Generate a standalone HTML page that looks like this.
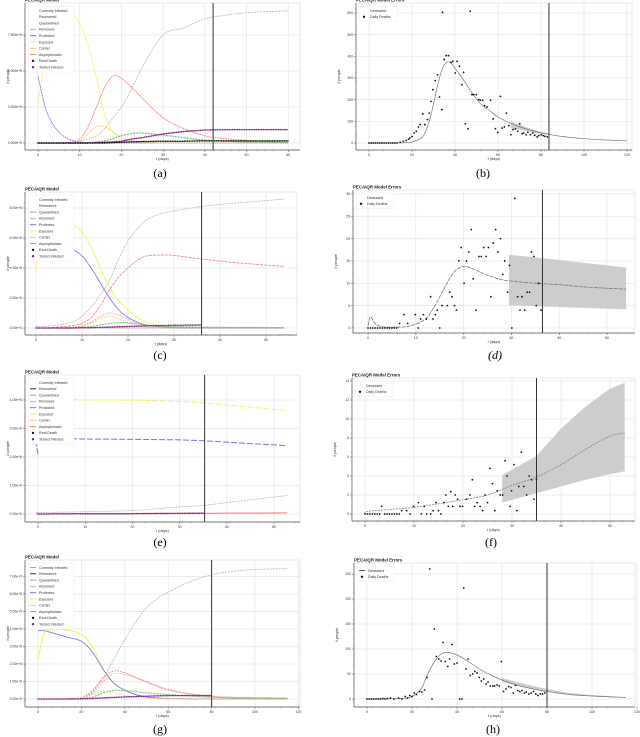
<!DOCTYPE html>
<html><head><meta charset="utf-8"><style>
body{margin:0;background:#fff;}
svg{display:block;font-family:"Liberation Sans",sans-serif;}
.cap{font-family:"Liberation Serif",serif;font-size:12px;}
</style></head><body>
<svg id="fig" width="640" height="737" viewBox="0 0 640 737" xmlns="http://www.w3.org/2000/svg">
<text class="cap" x="160" y="177" text-anchor="middle">(a)</text>
<text class="cap" x="483" y="177" text-anchor="middle">(b)</text>
<text class="cap" x="160" y="359" text-anchor="middle">(c)</text>
<text class="cap" x="495" y="359" text-anchor="middle"><tspan font-style="italic">(d)</tspan></text>
<text class="cap" x="160" y="546" text-anchor="middle">(e)</text>
<text class="cap" x="491" y="546" text-anchor="middle">(f)</text>
<text class="cap" x="160" y="733" text-anchor="middle">(g)</text>
<text class="cap" x="493" y="733" text-anchor="middle">(h)</text>
</svg>
<script>
// ---------- Panel (a) data ----------
const A_T=[0,2,4,6,8,10,12,14,16,18,20,22,25,30,35,40,45,50,55,60];
const A_removed=[0,0,0,0.01,0.02,0.05,0.12,0.2,0.4,0.7,1.0,1.4,2.1,3.0,3.2,3.45,3.55,3.62,3.65,3.67];
const A_exposed=[1.1,2.5,3.3,3.6,3.6,3.3,2.7,1.8,0.8,0.3,0.1,0.05,0.02,0,0,0,0,0,0,0];
const A_protected=[1.85,0.9,0.45,0.2,0.08,0.03,0.01,0,0,0,0,0,0,0,0,0,0,0,0,0];
const A_asym=[0,0,0,0,0.02,0.1,0.45,1.0,1.55,1.86,1.8,1.6,1.25,0.7,0.4,0.2,0.12,0.07,0.04,0.02];
const A_carrier=[0,0,0,0,0.01,0.05,0.25,0.45,0.45,0.3,0.15,0.08,0.03,0,0,0,0,0,0,0];
const A_quar=[0,0,0,0,0,0,0.01,0.03,0.06,0.12,0.2,0.25,0.28,0.22,0.15,0.08,0.05,0.03,0.02,0.01];
const A_tested=[0,0,0,0,0,0,0,0.01,0.02,0.03,0.05,0.1,0.15,0.25,0.32,0.36,0.37,0.37,0.37,0.37];
const A_deaths=[0,0,0,0,0,0,0,0,0,0.01,0.02,0.03,0.04,0.05,0.05,0.06,0.06,0.06,0.06,0.06];
// ---------- Panel (b) data ----------
const B_T=[0,15,20,25,28,30,32,34,36,38,40,44,48,52,56,60,65,70,75,80,90,100,110,120];
const B_model=[0,1,5,30,100,180,270,340,372,370,345,290,230,180,150,120,95,75,60,47,30,20,14,10];
const B_ptsT=[0,1,2,3,4,5,6,7,8,9,10,11,12,13,14.5,16,17.3,18.4,19,20,21,22,23,23.8,25,26,27.2,28,28.8,29.7,30.8,31.9,32.8,33.9,34.2,35,35.9,37,38.1,39,40.1,41,42.1,43.2,44,44.8,46,47.1,47.9,48.7,49.9,51,51.8,52.9,53.8,54.9,56.5,57.7,58.8,59.9,61.1,61.9,63,63.9,65,66,67,68.1,69.2,70.1,71.2,72,73.1,73.9,75.1,76.2,77.1,78.2,79,80.1,81,81.8,82.9];
const B_ptsV=[0,0,0,0,0,0,0,0,0,0,0,0,0,0,3,8,12,18,23,30,46,54,74,85,134,85,108,138,192,246,288,315,212,154,603,385,403,403,372,377,323,377,354,269,326,89,66,608,223,223,223,200,197,197,172,166,197,111,66,49,215,69,74,138,80,38,62,65,54,89,43,46,38,49,38,46,35,28,34,38,34,31,28];
const B_bandT=[66,70,75,80,84];
const B_bandHi=[100,85,65,52,44];
const B_bandLo=[70,62,52,42,38];
// ---------- Panel (c) data ----------
const C_T=[0,1,4,8,10,12,14,16,18,20,22,24,27,30,36,42,48,54];
const C_removed=[0.05,0.05,0.08,0.2,0.4,0.7,1.1,1.6,2.3,2.9,3.3,3.6,3.8,3.9,4.05,4.15,4.22,4.3];
const C_exposed=[2.0,3.6,3.6,3.45,3.2,2.7,2.0,1.35,0.9,0.6,0.35,0.2,0.08,0.02,0,0,0,0];
const C_protected=[2.8,2.8,2.75,2.6,2.4,2.0,1.5,1.0,0.6,0.35,0.2,0.1,0.04,0.01,0,0,0,0];
const C_asym=[0,0,0.02,0.08,0.15,0.35,0.75,1.27,1.7,2.0,2.25,2.4,2.43,2.42,2.3,2.2,2.12,2.05];
const C_carrier=[0,0,0,0.02,0.05,0.15,0.3,0.4,0.3,0.18,0.08,0.03,0.01,0,0,0,0,0];
const C_current=[0,0,0,0.03,0.08,0.2,0.38,0.5,0.42,0.28,0.15,0.08,0.04,0.02,0.01,0,0,0];
const C_quar=[0,0,0,0,0.02,0.05,0.1,0.15,0.18,0.17,0.14,0.1,0.07,0.05,0.03,0.02,0.02,0.01];
const C_tested=[0,0,0,0,0.01,0.01,0.02,0.03,0.04,0.05,0.06,0.07,0.08,0.09,0.1,0.1,0.1,0.1];
// ---------- Panel (d) data ----------
const D_T=[0,0.5,1.5,3,6,9,12,14,16,18,20,22,25,28,30,35,40,45,50,54];
const D_model=[0.5,2.5,1,0.3,0.2,0.5,2,5,9,12.5,13.8,13.2,11.8,10.8,10.5,10.0,9.7,9.2,8.9,8.7];
const D_ptsT=[0,0.5,1,1.5,2,2.5,3,3.5,4,4.5,5,5.5,6,6.6,7.5,8.3,9.9,10.5,11,11.6,12.2,13.1,13.6,14.1,14.5,15,15.5,16.6,17.1,17.6,18.1,18.5,19,19.5,20.1,20.6,21.1,21.6,22,22.6,23.2,23.7,24.2,24.7,25.2,25.7,26.2,26.7,27.2,27.7,28.2,28.6,29.2,29.6,30.1,30.7,31.3,31.8,32.2,32.8,33.3,33.8,34.2,34.7,35.2,35.7,36.2];
const D_ptsV=[0,0,0,0,0,0,0,0,0,0,0,0,0,1,3,1,3,0,2,3,2,7,2,3,4,0,5,5,8,7,5,4,15,18,10,15,17,22,11,4,16,16,18,16,18,7,19,22,17,20,12,15,8,14,0,29,7,4,7,4,8,8,17,16,5,10,4];
const D_bandT=[29.5,35,40,45,50,54];
const D_bandHi=[16.4,15.8,15.2,14.6,14.0,13.5];
const D_bandLo=[5.1,4.9,4.7,4.5,4.3,4.2];
// ---------- Panel (e) data ----------
const E_T=[0,0.5,10,20,25,30,35,40,45,52.8];
const E_exposed=[2.1,4.0,4.0,3.99,3.97,3.95,3.9,3.82,3.75,3.63];
const E_protected=[2.1,2.63,2.63,2.62,2.61,2.6,2.57,2.52,2.47,2.4];
const E_removed=[0.05,0.05,0.08,0.12,0.18,0.25,0.3,0.4,0.5,0.65];
const E_asym=[0,0,0.01,0.01,0.01,0.02,0.02,0.03,0.03,0.04];
const E_tested=[0,0,0.01,0.01,0.02,0.02,0.03,0.03,0.03,0.03];
// ---------- Panel (f) data ----------
const F_T=[0,1,10,20,25,30,35,40,45,50,53];
const F_model=[0,0.3,0.7,1.5,2.0,3.0,3.9,5.2,6.8,8.2,8.5];
const F_ptsT=[0,0.5,1,1.5,2,2.5,3,3.4,4,4.5,5,5.5,6,6.5,7,7.5,8.5,9.2,9.9,10.9,11.5,12.1,12.6,13.4,13.9,14.5,15,15.5,16.1,16.5,17,17.5,17.9,18.4,18.9,19.4,19.9,20.7,21.4,21.9,22.4,22.9,23.5,24,24.5,25,25.5,26,26.5,27,27.6,28.1,28.6,29,29.6,29.9,30.4,31,31.4,31.9,32.4,33,33.5,34,34.5,35];
const F_ptsV=[0,0,0,0,0,0,0,0.8,0,0,0,0,0,0,0,0.35,0.35,0,0.8,1.2,0,0.8,0,0,0.35,1.2,0.35,0,1.2,2,0.8,2.35,0.8,2,1.55,0.8,0.8,1.55,2,3.6,0.8,1.2,0.8,0.35,2,1.2,4.8,3.2,0.35,2.45,2,2,5.6,4,0.8,2.45,5.2,0.35,2.9,6.5,2.9,2,4,3.6,1.55,3.65];
const F_bandT=[28,35,40,45,50,53];
const F_bandHi=[4.1,6.1,9.0,11.3,13.2,13.8];
const F_bandLo=[1.2,2.2,2.9,3.6,4.2,4.5];
// ---------- Panel (g) data ----------
const G_T=[0,3,6,13,20,25,30,35,40,45,50,55,60,70,80,90,100,115];
const G_removed=[0,0,0,0.02,0.1,0.5,1.2,2.3,3.4,4.4,5.2,5.75,6.1,6.7,7.1,7.3,7.4,7.45];
const G_exposed=[2.3,3.8,3.95,3.95,3.7,3.0,1.7,0.9,0.5,0.25,0.1,0.05,0.02,0,0,0,0,0];
const G_protected=[3.9,3.9,3.8,3.55,3.3,2.7,1.7,0.9,0.5,0.25,0.12,0.06,0.03,0.01,0,0,0,0];
const G_current=[0,0,0,0,0.05,0.4,1.2,1.6,1.5,1.25,1.0,0.75,0.55,0.3,0.15,0.1,0.08,0.05];
const G_asym=[0,0,0,0,0.04,0.3,1.0,1.45,1.4,1.2,0.95,0.72,0.5,0.28,0.14,0.1,0.07,0.05];
const G_quar=[0,0,0,0,0.01,0.1,0.35,0.5,0.48,0.42,0.35,0.3,0.25,0.17,0.1,0.06,0.04,0.02];
const G_carrier=[0,0,0,0,0.05,0.25,0.45,0.35,0.2,0.1,0.05,0.03,0.02,0.01,0,0,0,0];
const G_tested=[0,0,0,0,0.01,0.03,0.06,0.09,0.12,0.14,0.16,0.18,0.19,0.2,0.2,0.2,0.2,0.2];
// ---------- Panel (h) data ----------
const H_T=[0,15,20,24,27,30,33,36,40,45,50,55,60,65,70,75,80,90,100,110,115];
const H_model=[0,1,5,20,50,75,90,93,88,75,60,48,38,30,24,19,15,9,6,4,3];
const H_ptsT=[0,1,2,3,4,5,6,7,8,9,10.4,12,14,15.5,17,18,19,20,21,22,23.4,24.4,25.6,26.7,27.9,28.9,29.9,30.8,31.9,32.9,33.8,34.8,35.9,36.7,37.8,38.8,40,41.2,42.2,43,44,44.9,45.9,47,47.9,48.9,49.9,50.8,51.9,52.9,53.8,54.8,55.9,56.7,57.8,58.8,59.7,60.7,61.8,63,64,65,66,67,67.9,68.9,70,70.8,71.9,72.9,74,75,76,77,78,79];
const H_ptsV=[0,0,0,0,0,0,0,1,0,1,2,0,2,0,5,2,7,5,12,9,15,14,18,43,260,0,140,85,80,76,113,75,65,80,109,70,72,0,0,222,60,80,47,50,55,52,43,36,40,30,34,26,26,26,28,26,75,15,20,25,23,12,27,17,15,17,12,14,10,12,15,10,7,10,10,12];
const H_bandT=[60,70,80,90,100,110];
const H_bandHi=[42,30,20,12,8,5];
const H_bandLo=[34,24,15,8,5,3];

const NS="http://www.w3.org/2000/svg";
const svg=document.getElementById('fig');
function mk(tag,attrs,parent){const e=document.createElementNS(NS,tag);for(const k in attrs)e.setAttribute(k,attrs[k]);(parent||svg).appendChild(e);return e;}
function smooth(pts){
  if(pts.length<3)return 'M'+pts.map(p=>p.join(',')).join('L');
  let d='M'+pts[0][0]+','+pts[0][1];
  for(let i=0;i<pts.length-1;i++){
    const p0=pts[Math.max(0,i-1)],p1=pts[i],p2=pts[i+1],p3=pts[Math.min(pts.length-1,i+2)];
    const c1x=p1[0]+(p2[0]-p0[0])/6,c1y=p1[1]+(p2[1]-p0[1])/6;
    const c2x=p2[0]-(p3[0]-p1[0])/6,c2y=p2[1]-(p3[1]-p1[1])/6;
    d+=`C${c1x},${c1y} ${c2x},${c2y} ${p2[0]},${p2[1]}`;
  }
  return d;
}

function drawPanel(P){
  const g=mk('g',{});
  
  
  const [fx0,fy0,fx1,fy1]=P.frame;
  const sx=t=>P.xpx0+t*P.xk;
  const sy=v=>P.ypx0-v*P.yk;
  mk('rect',{x:fx0,y:fy0,width:fx1-fx0,height:fy1-fy0,fill:'#fff',stroke:'#dcdcdc','stroke-width':0.6},g);
  const cid='clip-'+P.name;
  const cp=mk('clipPath',{id:cid},g);mk('rect',{x:fx0,y:fy0,width:fx1-fx0,height:fy1-fy0},cp);
  P.xticks.forEach((t,i)=>{
    const x=sx(t);
    const gl=mk('line',{x1:x,x2:x,y1:fy0,y2:fy1,stroke:'#e6e6e6','stroke-width':0.7},g);
    
    
    mk('line',{x1:x,x2:x,y1:fy1,y2:fy1+2,stroke:'#555','stroke-width':0.5},g);
    const tl=mk('text',{x:x,y:fy1+6,'font-size':3.6,'text-anchor':'middle',fill:'#333'},g);
    tl.textContent=P.xlabels[i];
    
    
  });
  P.yticks.forEach((v,i)=>{
    const y=sy(v);
    const gl=mk('line',{x1:fx0,x2:fx1,y1:y,y2:y,stroke:'#e6e6e6','stroke-width':0.7},g);
    
    
    mk('line',{x1:fx0-2,x2:fx0,y1:y,y2:y,stroke:'#555','stroke-width':0.5},g);
    const tl=mk('text',{x:fx0-3,y:y+1.2,'font-size':3.4,'text-anchor':'end',fill:'#333'},g);
    tl.textContent=P.ylabels[i];
    
    
  });
  for(let x=fx0+6;x<fx1;x+=(P.xk*P.minor)){mk('line',{x1:x,x2:x,y1:fy1,y2:fy1+1.2,stroke:'#777','stroke-width':0.4},g);}
  for(let y=fy1-6;y>fy0;y-=9){mk('line',{x1:fx0-1.2,x2:fx0,y1:y,y2:y,stroke:'#777','stroke-width':0.4},g);}
  mk('line',{x1:fx0,x2:fx1,y1:fy1,y2:fy1,stroke:'#555','stroke-width':0.7},g);
  mk('line',{x1:fx0,x2:fx0,y1:fy0,y2:fy1,stroke:'#555','stroke-width':0.7},g);
  const title=mk('text',{x:fx0,y:fy0-1.5,'font-size':4.4,'font-weight':'bold',fill:'#222'},g);
  title.textContent=P.title;
  
  
  const xl=mk('text',{x:(fx0+fx1)/2,y:fy1+10,'font-size':3.8,'text-anchor':'middle',fill:'#333'},g);
  xl.textContent='t (days)';
  
  
  const yl=mk('text',{x:fx0-16,y:(fy0+fy1)/2,'font-size':3.8,'text-anchor':'middle',fill:'#333',transform:`rotate(-90 ${fx0-16} ${(fy0+fy1)/2})`},g);
  yl.textContent='# people';
  
  
  const plot=mk('g',{'clip-path':`url(#${cid})`},g);
  const vx=sx(P.vline);
  (P.bands||[]).forEach(b=>{
    let d='M'+b.t.map((t,i)=>sx(t)+','+sy(b.hi[i])).join('L');
    for(let i=b.t.length-1;i>=0;i--)d+='L'+sx(b.t[i])+','+sy(b.lo[i]);
    const p=mk('path',{d:d+'Z',fill:'#c8c8c8',opacity:0.9},plot);
    
    
  });
  P.series.forEach(s=>{
    const pts=s.t.map((t,i)=>[sx(t),sy(s.v[i])]);
    if(s.kind==='dots'){
      const p=mk('path',{d:'M'+pts.map(p=>p.join(',')).join('L'),fill:'none',stroke:s.color,'stroke-width':1.5,'stroke-dasharray':'0.1 1.6','stroke-linecap':'round'},plot);
      
      
    } else if(s.kind==='scatter'){
      pts.forEach(p=>{
        const c=mk('circle',{cx:p[0],cy:p[1],r:0.9,fill:'#111'},plot);
        
        
      });
    } else {
      const p1=mk('path',{d:smooth(pts),fill:'none',stroke:s.color,'stroke-width':s.w||0.8,'stroke-dasharray':s.dash||'none'},plot);
      
      
    }
  });
  const vl=mk('line',{x1:vx,x2:vx,y1:fy0,y2:fy1,stroke:'#333','stroke-width':1},g);
  
  
  const L=P.legend;const lx=fx0+3,ly=fy0+3,lh=6.3;
  const lb=mk('rect',{x:lx,y:ly,width:P.legendW,height:L.length*lh+3,fill:'#fff',stroke:'#eee','stroke-width':0.5},g);
  
  
  L.forEach((e,i)=>{
    const y=ly+4.5+i*lh;
    if(e[2]==='dot')mk('circle',{cx:lx+5,cy:y,r:1.2,fill:e[1]},g);
    else if(e[1])mk('line',{x1:lx+2,x2:lx+8,y1:y,y2:y,stroke:e[1],'stroke-width':1},g);
    const t=mk('text',{x:lx+11,y:y+1.3,'font-size':3.6,fill:'#333'},g);
    t.textContent=e[0];
    
    
  });
}

const YEL='#f6f24a',BLU='#6f6ff5',RED='#f57a7a',GRY='#b5b5b5',ORG='#f5c870',GRN='#6cc06c',PUR='#8a1a8a',PNK='#f0a0a0';
const modelLegend=(c)=>[['Currently Infected',c[0]],['Recovered',c[1]],['Quarantined',c[2]],['Removed',GRY],['Protected',BLU],['Exposed',YEL],['Carrier',ORG],['Asymptomatic',RED],['Real Death','#111','dot'],['Tested Infected',PUR,'dot']];

drawPanel({name:'panel-a',title:'PECAIQR Model',frame:[25,3,300,150],xpx0:38,xk:4.17,ypx0:143,yk:36,vline:42,minor:2,
  xticks:[0,10,20,30,40,50,60],xlabels:['0','10','20','30','40','50','60'],
  yticks:[0,1,2,3],ylabels:['0.000e+0','2.500e+5','5.000e+5','7.500e+5'],legendW:46,
  legend:modelLegend([null,null,null]),
  series:[
   {name:'removed-line',t:A_T,v:A_removed,color:GRY,dash:'2 1'},
   {name:'exposed-line',t:A_T,v:A_exposed,color:YEL,dash:'2 0.6'},
   {name:'protected-line',t:A_T,v:A_protected,color:BLU,dash:'2 0.6'},
   {name:'asymptomatic-line',t:A_T,v:A_asym,color:RED,dash:'2 0.6'},
   {name:'carrier-line',t:A_T,v:A_carrier,color:ORG,dash:'2 0.6'},
   {name:'quarantined-line',t:A_T,v:A_quar,color:GRN,dash:'2 1',w:1.2},
   {name:'tested-infected-dots',t:A_T,v:A_tested,color:PUR,kind:'dots'},
   {name:'real-death-dots',t:A_T,v:A_deaths,color:'#111',kind:'dots'}]});

drawPanel({name:'panel-b',title:'PECAIQR Model Errors',frame:[356,3,632,150],xpx0:369,xk:2.15,ypx0:143,yk:0.2167,vline:83.7,minor:5,
  xticks:[0,20,40,60,80,100,120],xlabels:['0','20','40','60','80','100','120'],
  yticks:[0,100,200,300,400,500,600],ylabels:['0','100','200','300','400','500','600'],legendW:38,
  legend:[['Deceased',null],['Daily Deaths','#111','dot']],
  bands:[{t:B_bandT,hi:B_bandHi,lo:B_bandLo}],
  series:[{name:'deceased-model-line',t:B_T,v:B_model,color:'#777',w:0.7},
   {name:'daily-death-point',t:B_ptsT,v:B_ptsV,kind:'scatter'}]});

drawPanel({name:'panel-c',title:'PECAIQR Model',frame:[25,192,297,335],xpx0:36,xk:4.6,ypx0:328,yk:30,vline:36,minor:2,
  xticks:[0,10,20,30,40,50],xlabels:['0','10','20','30','40','50'],
  yticks:[0,1,2,3,4],ylabels:['0.00e+0','2.00e+5','4.00e+5','6.00e+5','8.00e+5'],legendW:46,
  legend:modelLegend([null,null,GRN]),
  series:[
   {name:'removed-line',t:C_T,v:C_removed,color:GRY,dash:'2 1'},
   {name:'exposed-line',t:C_T,v:C_exposed,color:YEL},
   {name:'protected-line',t:C_T,v:C_protected,color:BLU},
   {name:'asymptomatic-line',t:C_T,v:C_asym,color:RED,dash:'3 1'},
   {name:'carrier-line',t:C_T,v:C_carrier,color:ORG,dash:'2 1'},
   {name:'currently-infected-line',t:C_T,v:C_current,color:PNK,dash:'2 1'},
   {name:'quarantined-line',t:C_T,v:C_quar,color:GRN,dash:'2 1',w:1.1},
   {name:'recovered-line',t:[0,54],v:[0,0],color:'#888',w:0.6},
   {name:'tested-infected-dots',t:C_T.slice(0,15),v:C_tested.slice(0,15),color:PUR,kind:'dots'}]});

drawPanel({name:'panel-d',title:'PECAIQR Model Errors',frame:[353,190,635,333],xpx0:368,xk:4.78,ypx0:328,yk:4.47,vline:36.5,minor:2,
  xticks:[0,10,20,30,40,50],xlabels:['0','10','20','30','40','50'],
  yticks:[0,5,10,15,20,25,30],ylabels:['0','5','10','15','20','25','30'],legendW:38,
  legend:[['Deceased',null],['Daily Deaths','#111','dot']],
  bands:[{t:D_bandT,hi:D_bandHi,lo:D_bandLo}],
  series:[{name:'deceased-model-line',t:D_T,v:D_model,color:'#777',w:0.8,dash:'4 1'},
   {name:'daily-death-point',t:D_ptsT,v:D_ptsV,kind:'scatter'}]});

drawPanel({name:'panel-e',title:'PECAIQR Model',frame:[25,375,300,522],xpx0:38,xk:4.72,ypx0:514,yk:28.5,vline:35.3,minor:2,
  xticks:[0,10,20,30,40,50],xlabels:['0','10','20','30','40','50'],
  yticks:[0,1,2,3,4],ylabels:['0.00e+0','1.00e+6','2.00e+6','3.00e+6','4.00e+6'],legendW:46,
  legend:modelLegend([null,'#333',GRN]),
  series:[
   {name:'exposed-line',t:E_T,v:E_exposed,color:YEL,dash:'6 2'},
   {name:'protected-line',t:E_T,v:E_protected,color:BLU,dash:'6 2',w:1},
   {name:'removed-line',t:E_T,v:E_removed,color:GRY,dash:'2 1'},
   {name:'asymptomatic-line',t:E_T,v:E_asym,color:RED,w:1},
   {name:'tested-infected-dots',t:E_T.slice(0,7),v:E_tested.slice(0,7),color:PUR,kind:'dots'}]});

drawPanel({name:'panel-f',title:'PECAIQR Model Errors',frame:[352,378,635,521],xpx0:365,xk:4.9,ypx0:514,yk:9.5,vline:35,minor:2,
  xticks:[0,10,20,30,40,50],xlabels:['0','10','20','30','40','50'],
  yticks:[0,2,4,6,8,10,12,14],ylabels:['0','2','4','6','8','10','12','14'],legendW:38,
  legend:[['Deceased',null],['Daily Deaths','#111','dot']],
  bands:[{t:F_bandT,hi:F_bandHi,lo:F_bandLo}],
  series:[{name:'deceased-model-line',t:F_T,v:F_model,color:'#777',w:0.7,dash:'2 1'},
   {name:'daily-death-point',t:F_ptsT,v:F_ptsV,kind:'scatter'}]});

drawPanel({name:'panel-g',title:'PECAIQR Model',frame:[25,560,300,707],xpx0:38,xk:2.17,ypx0:699,yk:17.5,vline:80,minor:5,
  xticks:[0,20,40,60,80,100,120],xlabels:['0','20','40','60','80','100','120'],
  yticks:[0,1,2,3,4,5,6,7],ylabels:['0.00e+0','1.00e+5','2.00e+5','3.00e+5','4.00e+5','5.00e+5','6.00e+5','7.00e+5'],legendW:46,
  legend:modelLegend([RED,'#333',GRN]),
  series:[
   {name:'removed-line',t:G_T,v:G_removed,color:GRY,dash:'2 1'},
   {name:'exposed-line',t:G_T,v:G_exposed,color:YEL,w:1},
   {name:'protected-line',t:G_T,v:G_protected,color:BLU},
   {name:'currently-infected-line',t:G_T,v:G_current,color:RED,dash:'2 1'},
   {name:'asymptomatic-line',t:G_T,v:G_asym,color:PNK,dash:'2 1'},
   {name:'quarantined-line',t:G_T,v:G_quar,color:GRN,dash:'2 1',w:1.1},
   {name:'carrier-line',t:G_T,v:G_carrier,color:ORG,dash:'2 1'},
   {name:'tested-infected-dots',t:G_T.slice(0,15),v:G_tested.slice(0,15),color:PUR,kind:'dots'}]});

drawPanel({name:'panel-h',title:'PECAIQR Model Errors',frame:[354,563,635,707],xpx0:367,xk:2.25,ypx0:699,yk:0.5,vline:80,minor:5,
  xticks:[0,20,40,60,80,100,120],xlabels:['0','20','40','60','80','100','120'],
  yticks:[0,50,100,150,200,250],ylabels:['0','50','100','150','200','250'],legendW:38,
  legend:[['Deceased','#555'],['Daily Deaths','#111','dot']],
  bands:[{t:H_bandT,hi:H_bandHi,lo:H_bandLo}],
  series:[{name:'deceased-model-line',t:H_T,v:H_model,color:'#777',w:0.7},
   {name:'daily-death-point',t:H_ptsT,v:H_ptsV,kind:'scatter'}]});
</script>
</body></html>
